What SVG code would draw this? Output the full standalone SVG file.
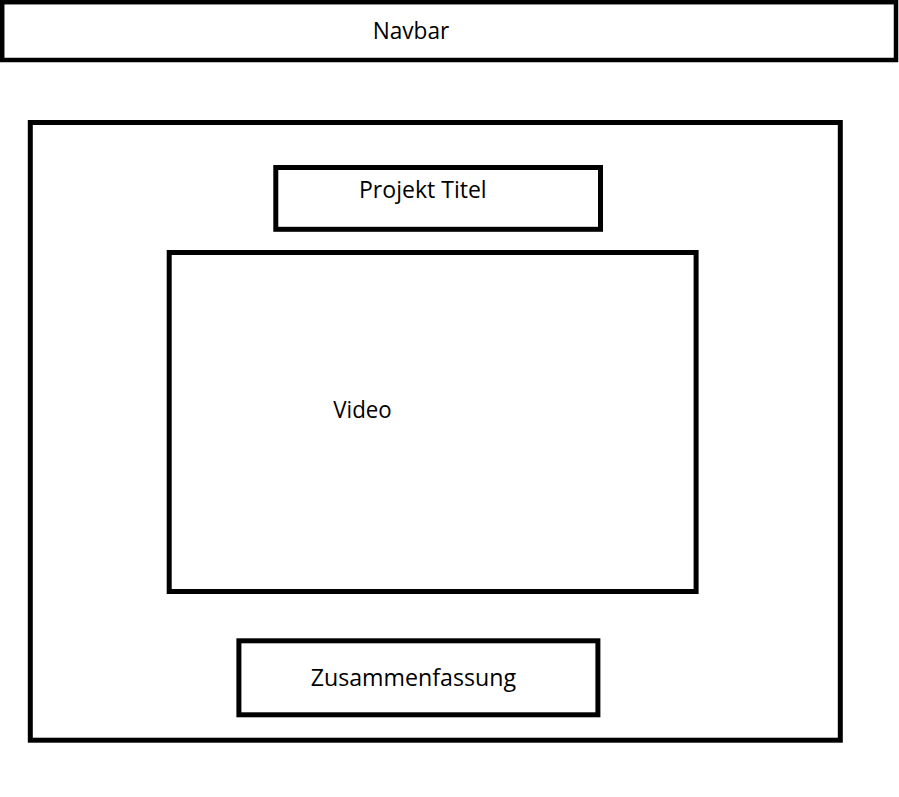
<svg xmlns="http://www.w3.org/2000/svg" width="899" height="797" viewBox="0 0 899 797">
<style>
.box{fill:none;stroke:#000;stroke-width:5}
.lbl{font-family:"Open Sans","Segoe UI","Liberation Sans",sans-serif;font-size:23px;fill:#000}
</style>
<rect width="899" height="797" fill="#fff"/>
<g id="navbar">
<rect class="box" x="2.2" y="2.2" width="893.8" height="57.8" style="stroke-width:4.5"/>
<text class="lbl" x="372.7" y="39.3" textLength="76.6" lengthAdjust="spacingAndGlyphs">Navbar</text>
</g>
<g id="container">
<rect class="box" x="30.3" y="122.5" width="810" height="617.7"/>
</g>
<g id="projekt-titel">
<rect class="box" x="275.8" y="167.5" width="324.7" height="61.8"/>
<text class="lbl" x="359" y="197.7" textLength="127.7" lengthAdjust="spacingAndGlyphs">Projekt Titel</text>
</g>
<g id="video">
<rect class="box" x="169.2" y="252.5" width="526.9" height="339"/>
<text class="lbl" x="333.3" y="418.3" textLength="58.4" lengthAdjust="spacingAndGlyphs">Video</text>
</g>
<g id="zusammenfassung">
<rect class="box" x="238.9" y="640.8" width="359" height="74"/>
<text class="lbl" x="310.7" y="686" textLength="205.3" lengthAdjust="spacingAndGlyphs">Zusammenfassung</text>
</g>
<g id="connectors"></g>
</svg>
